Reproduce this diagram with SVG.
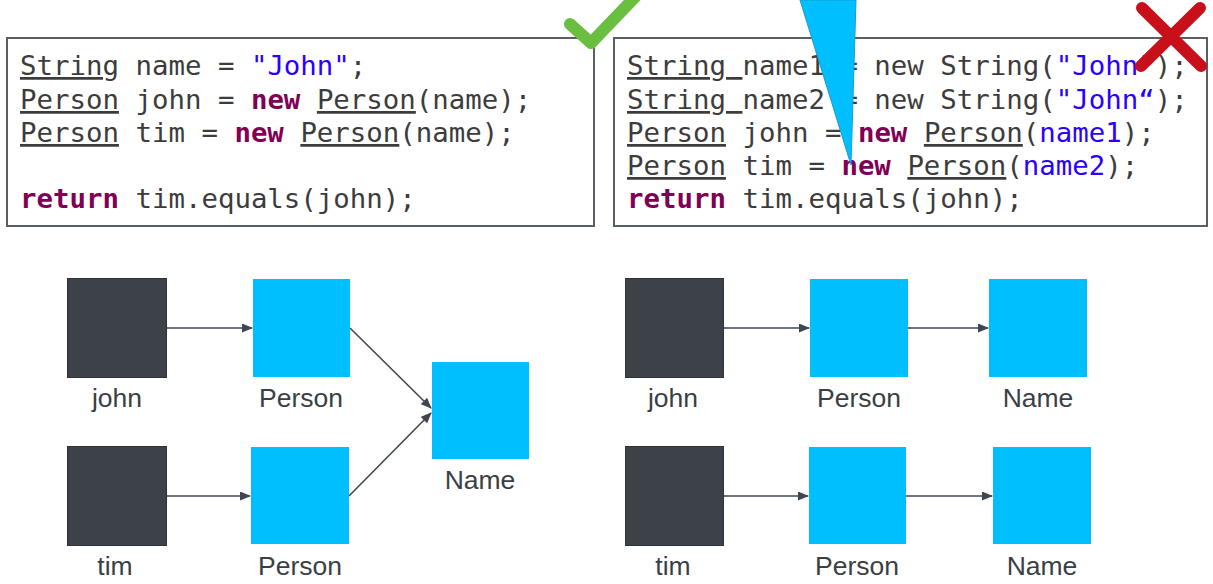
<svg xmlns="http://www.w3.org/2000/svg" width="1213" height="584" viewBox="0 0 1213 584">
<defs>
<style>
.code{font-family:"DejaVu Sans Mono","Liberation Mono",monospace;font-size:27.4px;fill:#3c3c3c}
.kw{fill:#7f0055;font-weight:bold}
.str{fill:#2a00ff}
.u{text-decoration:underline}
.box{fill:#fff;stroke:#5a5f66;stroke-width:2}
.dark{fill:#3d4249;stroke:#2e3237;stroke-width:1}
.blue{fill:#00bfff}
.lbl{font-family:"Liberation Sans",Arial,sans-serif;font-size:26.5px;fill:#3a3f45;text-anchor:middle}
.conn{stroke:#404650;stroke-width:1.6;fill:none;marker-end:url(#ah)}
</style>
<marker id="ah" markerUnits="userSpaceOnUse" markerWidth="11" markerHeight="9" refX="10" refY="4.5" orient="auto">
<path d="M0,0 L11,4.5 L0,9 z" fill="#404650"/>
</marker>
</defs>
<rect width="1213" height="584" fill="#fff"/>

<g id="code-left">
<rect class="box" x="7" y="38" width="587" height="188"/>
<text class="code" xml:space="preserve" x="20" y="75"><tspan class="u">String</tspan> name = <tspan class="str">"John"</tspan>;</text>
<text class="code" xml:space="preserve" x="20" y="109"><tspan class="u">Person</tspan> john = <tspan class="kw">new</tspan> <tspan class="u">Person</tspan>(name);</text>
<text class="code" xml:space="preserve" x="20" y="142"><tspan class="u">Person</tspan> tim = <tspan class="kw">new</tspan> <tspan class="u">Person</tspan>(name);</text>
<text class="code" xml:space="preserve" x="20" y="208"><tspan class="kw">return</tspan> tim.equals(john);</text>
</g>

<g id="code-right">
<rect class="box" x="614" y="38" width="593" height="188"/>
<text class="code" xml:space="preserve" x="627" y="75"><tspan class="u">String </tspan>name1 = new String(<tspan class="str">"John"</tspan>);</text>
<text class="code" xml:space="preserve" x="627" y="109"><tspan class="u">String </tspan>name2 = new String(<tspan class="str">"John“</tspan>);</text>
<text class="code" xml:space="preserve" x="627" y="142"><tspan class="u">Person</tspan> john = <tspan class="kw">new</tspan> <tspan class="u">Person</tspan>(<tspan class="str">name1</tspan>);</text>
<text class="code" xml:space="preserve" x="627" y="175"><tspan class="u">Person</tspan> tim = <tspan class="kw">new</tspan> <tspan class="u">Person</tspan>(<tspan class="str">name2</tspan>);</text>
<text class="code" xml:space="preserve" x="627" y="208"><tspan class="kw">return</tspan> tim.equals(john);</text>
</g>

<g id="checkmark">
<polyline points="570,24 591,43 638,-6" fill="none" stroke="#6abf40" stroke-width="12" stroke-linecap="round" stroke-linejoin="round"/>
</g>

<g id="pointer">
<polygon points="800,0 856,0 851,165" fill="#00bfff" stroke="#1a9ad0" stroke-width="1"/>
</g>

<g id="crossmark">
<line x1="1142" y1="8" x2="1201" y2="66" stroke="#c8101a" stroke-width="12" stroke-linecap="round"/>
<line x1="1200" y1="8" x2="1141" y2="66" stroke="#c8101a" stroke-width="12" stroke-linecap="round"/>
</g>

<g id="connectors">
<line class="conn" x1="167" y1="328" x2="252" y2="328"/>
<line class="conn" x1="167" y1="496" x2="250" y2="496"/>
<line class="conn" x1="350" y1="328" x2="431" y2="408"/>
<line class="conn" x1="349" y1="496" x2="431" y2="413"/>
<line class="conn" x1="724" y1="328" x2="809" y2="328"/>
<line class="conn" x1="908" y1="328" x2="988" y2="328"/>
<line class="conn" x1="724" y1="496" x2="808" y2="496"/>
<line class="conn" x1="906" y1="496" x2="992" y2="496"/>
</g>

<g id="l-john"><rect class="dark" x="67.5" y="278.5" width="99" height="99"/><text class="lbl" x="117" y="407">john</text></g>
<g id="l-person1"><rect class="blue" x="253" y="279" width="97" height="98"/><text class="lbl" x="301" y="407">Person</text></g>
<g id="l-tim"><rect class="dark" x="67.5" y="446.5" width="99" height="99"/><text class="lbl" x="115" y="575">tim</text></g>
<g id="l-person2"><rect class="blue" x="251" y="447" width="98" height="97"/><text class="lbl" x="300" y="575">Person</text></g>
<g id="l-name"><rect class="blue" x="432" y="362" width="97" height="97"/><text class="lbl" x="480" y="489">Name</text></g>

<g id="r-john"><rect class="dark" x="625.5" y="278.5" width="98" height="99"/><text class="lbl" x="673" y="407">john</text></g>
<g id="r-person1"><rect class="blue" x="810" y="279" width="98" height="98"/><text class="lbl" x="859" y="407">Person</text></g>
<g id="r-name1"><rect class="blue" x="989" y="279" width="98" height="98"/><text class="lbl" x="1038" y="407">Name</text></g>
<g id="r-tim"><rect class="dark" x="625.5" y="446.5" width="98" height="99"/><text class="lbl" x="673" y="575">tim</text></g>
<g id="r-person2"><rect class="blue" x="809" y="447" width="97" height="97"/><text class="lbl" x="857" y="575">Person</text></g>
<g id="r-name2"><rect class="blue" x="993" y="447" width="98" height="97"/><text class="lbl" x="1042" y="575">Name</text></g>
</svg>
